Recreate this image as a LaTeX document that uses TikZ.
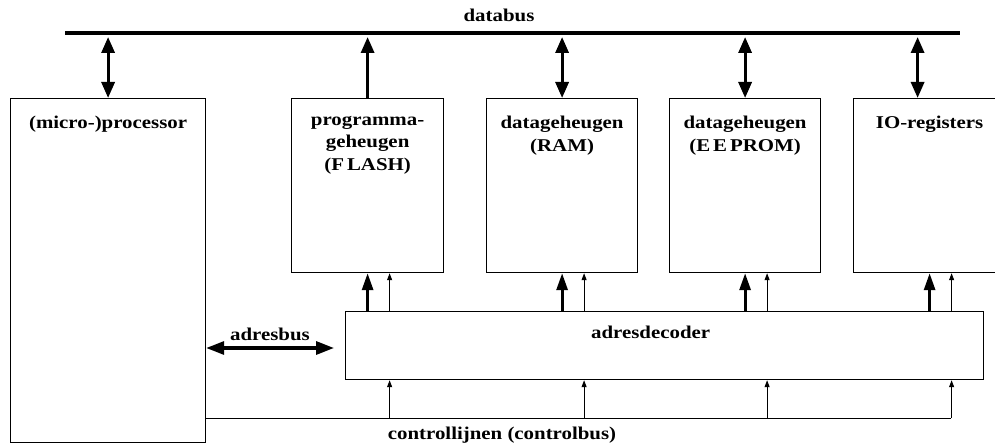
\documentclass[tikz,border=0pt]{standalone}
\usepackage{fontspec}
\setmainfont[FakeStretch=1.16]{Liberation Serif}
\usetikzlibrary{arrows.meta}
\usetikzlibrary{positioning}

\begin{document}
\begin{tikzpicture}[x=1pt, y=-1pt, font=\fontsize{18}{22.5}\selectfont\bfseries]
  \tikzstyle{unit} = [draw, line width=1.2pt, anchor=north west, inner sep=0pt]
  \tikzstyle{caption} = [align=center, anchor=north, inner sep=0pt]
  \tikzstyle{bus} = [line width=3.2pt]
  \tikzstyle{sig} = [line width=1pt, -{Triangle[width=5pt,length=7pt]}]
  \tikzstyle{fat} = [line width=3pt, -{Triangle[width=11pt,length=17pt]}]
  \useasboundingbox (0,0) rectangle (995,446);
  % units
  \node[unit, minimum width=195, minimum height=344] (proc) at (10,98) {};
  \node[unit, minimum width=152, minimum height=174] (flash) at (291,98) {};
  \node[unit, minimum width=151, minimum height=174] (ram) at (486,98) {};
  \node[unit, minimum width=151, minimum height=174] (eeprom) at (669,98) {};
  \node[unit, minimum width=152, minimum height=174] (io) at (853,98) {};
  \node[unit, minimum width=638, minimum height=68] (dec) at (345,311) {};
  \node[caption, below=18pt of proc.north] (proc-t) {(micro-)processor};
  \node[caption, below=18pt of flash.north] (flash-t) {programma-\\geheugen\\(F\,LASH)};
  \node[caption, below=18pt of ram.north] (ram-t) {datageheugen\\(RAM)};
  \node[caption, below=18pt of eeprom.north] (eeprom-t) {datageheugen\\(E\,E\,PROM)};
  \node[caption, below=18pt of io.north] (io-t) {IO-registers};
  \node[caption, below=15pt of dec.north, xshift=-14pt] (dec-t) {adresdecoder};
  % databus
  \coordinate (bus-l) at (65,33);
  \coordinate (bus-r) at (960,33);
  \coordinate (bus-e) at (0,37);
  \draw[line width=4pt] (bus-l) -- (bus-r);
  \node (bus-t) at (499,15) {databus};
  \draw[bus, {Triangle[width=13pt,length=16pt]}-{Triangle[width=13pt,length=16pt]}] (proc.north) -- (proc.north |- bus-e);
  \draw[bus, -{Triangle[width=13pt,length=16pt]}] (flash.north) -- (flash.north |- bus-e);
  \draw[bus, {Triangle[width=13pt,length=16pt]}-{Triangle[width=13pt,length=16pt]}] (ram.north) -- (ram.north |- bus-e);
  \draw[bus, {Triangle[width=13pt,length=16pt]}-{Triangle[width=13pt,length=16pt]}] (eeprom.north) -- (eeprom.north |- bus-e);
  \draw[bus, {Triangle[width=13pt,length=16pt]}-{Triangle[width=13pt,length=16pt]}] ([xshift=-12pt]io.north) -- ([xshift=-12pt]io.north |- bus-e);
  % adresbus
  \coordinate (adr-r) at (334,348);
  \draw[bus, {Triangle[width=13pt,length=18pt]}-{Triangle[width=13pt,length=18pt]}] (proc.east |- adr-r) -- (adr-r);
  \node (adr-t) at (270,334) {adresbus};
  % controlbus
  \coordinate (ctl-l) at (205,418);
  \coordinate (ctl-r) at (951,418);
  \draw[line width=1pt] (ctl-l) -- (ctl-r);
  \node (ctl-t) at (502,435) {controllijnen (controlbus)};
  \foreach \m in {flash,ram,eeprom,io} {
    \draw[fat] (\m.south |- dec.north) -- (\m.south);
    \draw[sig] ([xshift=22pt]\m.south |- dec.north) -- ([xshift=22pt]\m.south);
    \draw[sig] ([xshift=22pt]\m.south |- ctl-l) -- ([xshift=22pt]\m.south |- dec.south);
  }
\end{tikzpicture}
\end{document}
